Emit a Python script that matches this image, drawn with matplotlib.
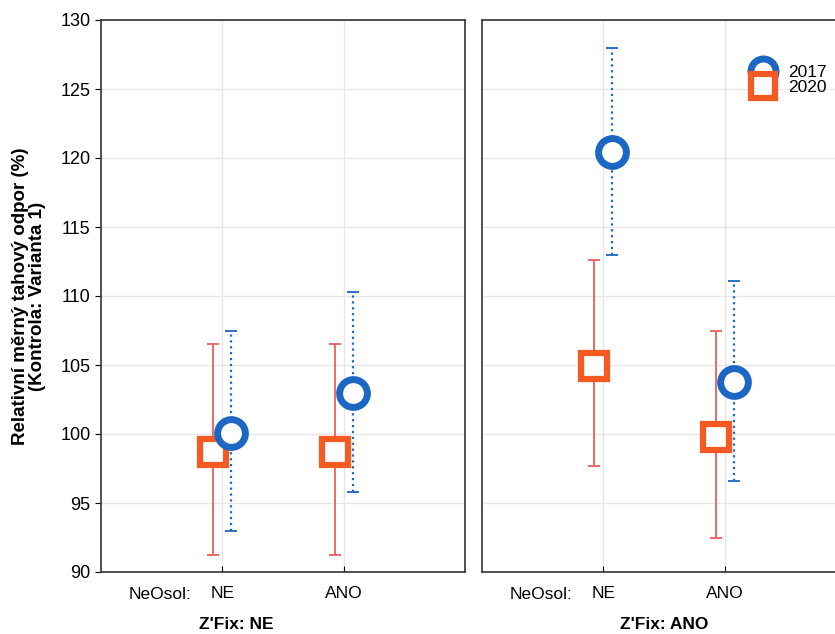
import numpy as np
import matplotlib.pyplot as plt

plt.rcParams['font.family'] = ['Liberation Sans', 'DejaVu Sans']

# data
neosol = ['NE', 'ANO']
panels = ["Z'Fix: NE", "Z'Fix: ANO"]

mean_2017 = [[100.1, 103.0], [120.4, 103.8]]
low_2017 = [[93.0, 95.8], [113.0, 96.6]]
high_2017 = [[107.5, 110.3], [128.0, 111.1]]

mean_2020 = [[98.7, 98.7], [104.9, 99.8]]
low_2020 = [[91.2, 91.2], [97.7, 92.5]]
high_2020 = [[106.5, 106.5], [112.6, 107.5]]

blue = '#1c66c4'
orange = '#f65a22'
red_err = '#e8605a'

fig = plt.figure(figsize=(8.35, 6.34), dpi=100)
w, h = 364 / 835, 552 / 634
bottom = 62 / 634
axes = [fig.add_axes([101 / 835, bottom, w, h]),
        fig.add_axes([482 / 835, bottom, w, h])]

x = np.arange(1, len(neosol) + 1)
off = 0.075
for i, ax in enumerate(axes):
    m20 = np.array(mean_2020[i])
    m17 = np.array(mean_2017[i])
    e20 = [m20 - np.array(low_2020[i]), np.array(high_2020[i]) - m20]
    e17 = [m17 - np.array(low_2017[i]), np.array(high_2017[i]) - m17]

    ax.errorbar(x - off, m20, yerr=e20, fmt='none', ecolor=red_err,
                elinewidth=1.3, capsize=4, capthick=1.3, zorder=2)
    ax.plot(x - off, m20, 's', ms=19, mfc='white', mec=orange, mew=4.5,
            label='2020', zorder=3)
    eb = ax.errorbar(x + off, m17, yerr=e17, fmt='none', ecolor=blue,
                     elinewidth=1.6, capsize=4, capthick=1.3, zorder=4)
    eb[2][0].set_linestyle(':')
    ax.plot(x + off, m17, 'o', ms=20, mfc='white', mec=blue, mew=5,
            label='2017', zorder=5)

    ax.set_xlim(0, 3)
    ax.set_ylim(90, 130)
    ax.set_xticks(x)
    ax.set_xticklabels(neosol, fontsize=12.5)
    ax.set_yticks(np.arange(90, 131, 5))
    ax.grid(True, color='#e6e6e6', lw=1)
    ax.set_axisbelow(True)
    ax.tick_params(axis='x', direction='in', length=4, pad=10)
    for s in ax.spines.values():
        s.set_linewidth(1.2)
        s.set_color('#333333')
    ax.text(0.077, -0.04, 'NeOsol:', transform=ax.transAxes, fontsize=12.5,
            ha='left', va='center')

axes[0].tick_params(axis='y', labelsize=13, length=4)
axes[1].tick_params(axis='y', left=False, labelleft=False)

axes[0].text(0.371, -0.095, panels[0], transform=axes[0].transAxes,
             fontsize=12.5, fontweight='bold', ha='center', va='center')
axes[1].text(0.5, -0.095, panels[1], transform=axes[1].transAxes,
             fontsize=12.5, fontweight='bold', ha='center', va='center')

axes[0].set_ylabel('Relativní měrný tahový odpor (%)\n(Kontrola: Varianta 1)',
                   fontsize=13.5, fontweight='bold', labelpad=10, linespacing=1.0)

h1, l1 = axes[1].get_legend_handles_labels()
order = [1, 0]
axes[1].legend([h1[k] for k in order], [l1[k] for k in order],
               loc='upper left', bbox_to_anchor=(0.733, 0.919), frameon=False,
               borderpad=0, borderaxespad=0, handlelength=1.6,
               labelspacing=0.0, handletextpad=0.68,
               fontsize=12.5, markerscale=0.9)

fig.savefig('out.png', dpi=100)
